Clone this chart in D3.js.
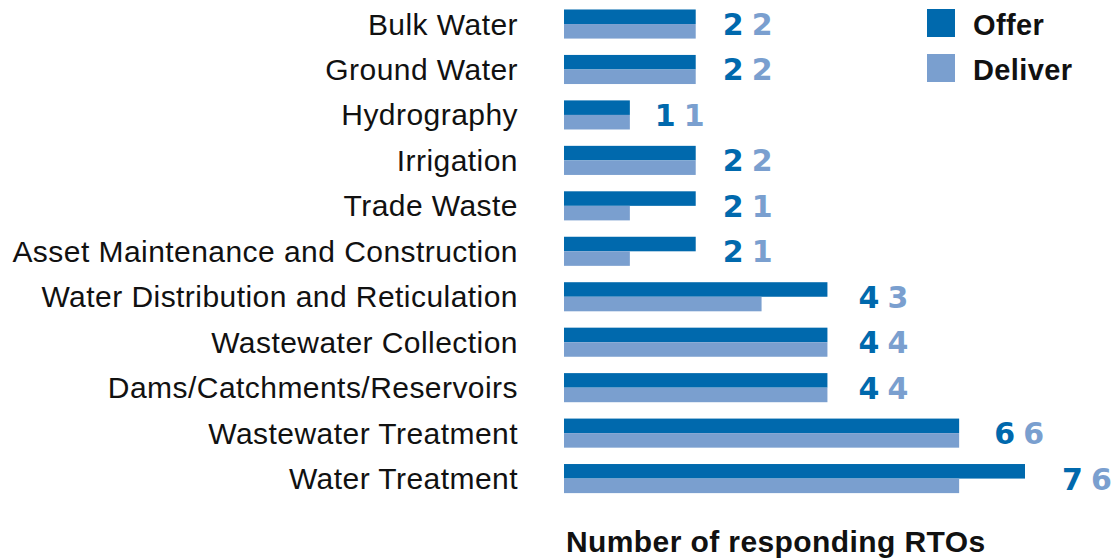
<!DOCTYPE html>
<html><head><meta charset="utf-8">
<script src="https://cdn.jsdelivr.net/npm/d3@7"></script>
<style>html,body{margin:0;padding:0;background:#fff;}</style>
</head><body>
<script>
const categories = ["Bulk Water","Ground Water","Hydrography","Irrigation","Trade Waste","Asset Maintenance and Construction","Water Distribution and Reticulation","Wastewater Collection","Dams/Catchments/Reservoirs","Wastewater Treatment","Water Treatment"];
const offer   = [2,2,1,2,2,2,4,4,4,6,7];
const deliver = [2,2,1,2,1,1,3,4,4,6,6];
const seriesNames = ["Offer","Deliver"];
const colors = ["#0069ad","#7a9fcf"];
const axisTitle = "Number of responding RTOs";

const W = 1116, H = 560;
const svg = d3.select("body").append("svg").attr("width", W).attr("height", H);

const x = d3.scaleLinear().domain([0, 7]).range([564, 1025]);
const xLabel = d3.scaleLinear().domain([0, 7]).range([587, 1062]);
const y = d3.scaleBand().domain(categories).range([1.3, 501.3]).paddingInner(0.36).paddingOuter(0.18);
const ys = d3.scaleBand().domain(seriesNames).range([0, y.bandwidth()]);

const data = categories.map((c, i) => ({c, vals: [offer[i], deliver[i]]}));

const g = svg.selectAll("g.row").data(data).join("g").attr("class","row")
  .attr("transform", d => `translate(0,${y(d.c)})`);

g.selectAll("rect").data(d => d.vals.map((v, k) => ({v, k})))
  .join("rect")
  .attr("x", x(0))
  .attr("y", d => ys(seriesNames[d.k]))
  .attr("width", d => x(d.v) - x(0))
  .attr("height", ys.bandwidth())
  .attr("fill", d => colors[d.k]);

// category labels
svg.selectAll("text.cat").data(categories).join("text").attr("class","cat")
  .attr("x", 518).attr("y", d => y(d) + y.bandwidth()/2 + 10.5)
  .attr("text-anchor","end")
  .attr("font-family","'Liberation Sans', Arial, sans-serif")
  .attr("font-size", 30).attr("letter-spacing", 0.45)
  .attr("fill","#111")
  .text(d => d);

// value labels
g.each(function(d){
  const sel = d3.select(this);
  const bx = xLabel(d.vals[0]);
  const cy = y.bandwidth()/2 + 11;
  sel.append("text").attr("x", bx).attr("y", cy)
    .attr("font-family","'DejaVu Sans', sans-serif").attr("font-weight",700)
    .attr("font-size", 30).attr("fill", colors[0]).text(d.vals[0]);
  sel.append("text").attr("x", bx + 29).attr("y", cy)
    .attr("font-family","'DejaVu Sans', sans-serif").attr("font-weight",700)
    .attr("font-size", 30).attr("fill", colors[1]).text(d.vals[1]);
});

// legend
const lg = svg.selectAll("g.leg").data(seriesNames).join("g").attr("class","leg")
  .attr("transform", (d,i) => `translate(927,${9 + i*45})`);
lg.append("rect").attr("width", 28).attr("height", 28).attr("fill", (d,i) => colors[i]);
lg.append("text").attr("x", 46).attr("y", 26)
  .attr("font-family","'Liberation Sans', Arial, sans-serif").attr("font-weight", 700)
  .attr("font-size", 29).attr("letter-spacing", 0.4).attr("fill","#111").text(d => d);

// axis title
svg.append("text").attr("x", 566).attr("y", 552)
  .attr("font-family","'Liberation Sans', Arial, sans-serif").attr("font-weight", 700)
  .attr("font-size", 30).attr("letter-spacing", 0.4).attr("fill","#111").text(axisTitle);
</script>
</body></html>
